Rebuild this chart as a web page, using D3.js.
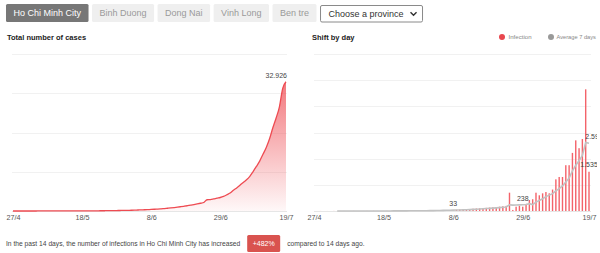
<!DOCTYPE html>
<html>
<head>
<meta charset="utf-8">
<script src="https://cdn.jsdelivr.net/npm/d3@7"></script>
<style>
body { margin: 0; background: #fff; }
svg { display: block; font-family: "Liberation Sans", Arial, sans-serif; }
</style>
</head>
<body>
<svg id="chart" width="600" height="253"></svg>
<script>
var provinces = ['Ho Chi Minh City', 'Binh Duong', 'Dong Nai', 'Vinh Long', 'Ben tre'];
var selectText = 'Choose a province';

// one value per day, 27/4 .. 19/7
var firstDay = new Date(2021, 3, 27);
var lastDay = new Date(2021, 6, 19);
var tickLabels = ['27/4', '18/5', '8/6', '29/6', '19/7'];

var dailyCases = [
    0, 0, 2, 0, 1, 0, 3, 0, 1, 2, 0, 0, 4, 1, 0, 2, 3, 0, 5, 2, 1,
    2, 4, 1, 5, 6, 8, 10, 7, 12, 14, 11, 15, 12, 16, 14,
    28, 30, 33, 31, 35, 34,
    40, 45, 55, 60, 70, 75, 85, 95, 100, 110, 120, 130, 140, 150, 165, 180, 195,
    700, 40, 165, 200, 165, 270, 420, 450, 700, 600, 675, 725, 675, 820,
    1210, 1300, 1300, 1750, 1750, 2220, 2700, 2400, 2750, 4650, 1500
];

var weekAverage = [
    null, null, null, null, null, null, null,
    0.9, 1, 1, 1, 0.9, 1.4, 1.1, 1.1, 1.3, 1.4, 1.4, 2.1, 1.9, 1.9,
    2.1, 2.4, 2.1, 2.9, 3, 3.9, 5.1, 5.9, 7, 8.9, 9.7, 11, 11.6, 12.4, 13.4,
    15.7, 18, 21.1, 23.4, 26.7, 29.3,
    33, 35.4, 39, 42.9, 48.4, 54.1, 61.4, 69.3, 77.1, 85, 93.6, 102.1, 111.4, 120.7, 130.7, 142.1, 154.3,
    237.1, 224.3, 227.9, 235, 238, 247.9, 280, 244.3, 338.6, 400.7, 468.6, 548.6, 606.4, 663.6,
    772.1, 857.9, 957.9, 1111.4, 1257.9, 1535, 1747.1, 1917.1, 2124.3, 2620, 2590
];

var totalCases = [
    0, 0, 2, 2, 3, 3, 6, 6, 7, 9, 9, 9, 13, 14, 14, 16, 19, 19, 24, 26, 27,
    29, 33, 34, 39, 45, 53, 63, 70, 82, 96, 107, 122, 134, 150, 164,
    192, 222, 255, 286, 321, 355,
    395, 440, 495, 555, 625, 700, 785, 880, 980, 1090, 1210, 1340, 1480, 1630, 1795, 1975, 2170,
    2870, 2910, 3075, 3275, 3440, 3710, 4130, 4580, 5280, 5880, 6555, 7280, 7955, 8845,
    10055, 11345, 12720, 14450, 16180, 18400, 21200, 23700, 26550, 31250, 32926
];

var averageLabelDays = ['8/6', '29/6', '16/7', '19/7'];
var averageLabelValues = [33, 238, 1535, 2590];

var sentenceBefore = 'In the past 14 days, the number of infections in Ho Chi Minh City has increased';
var changeText = '+482%';
var sentenceAfter = 'compared to 14 days ago.';

var red = '#ee4b52';
var barRed = '#f3636a';

function parseDay(s) {
    var p = s.split('/');
    return new Date(2021, +p[1] - 1, +p[0]);
}

var days = d3.timeDay.range(firstDay, d3.timeDay.offset(lastDay, 1));
var vnFormat = d3.formatLocale({decimal: ',', thousands: '.', grouping: [3], currency: ['', '']}).format(',d');

var svg = d3.select('#chart');

// province buttons
var bx = 6;
provinces.forEach(function (name, i) {
    var g = svg.append('g');
    var r = g.append('rect');
    var t = g.append('text')
        .attr('y', 16.3)
        .attr('font-size', 9)
        .attr('fill', i === 0 ? '#fff' : '#9a9a9a')
        .text(name);
    var w = t.node().getComputedTextLength() + 15;
    r.attr('x', bx).attr('y', 4)
        .attr('width', w).attr('height', 18)
        .attr('rx', 1.5)
        .attr('fill', i === 0 ? '#777' : '#efefef');
    t.attr('x', bx + w / 2).attr('text-anchor', 'middle');
    bx += w + 3.5;
});

svg.append('rect')
    .attr('x', bx + 0.5).attr('y', 5.5)
    .attr('width', 102).attr('height', 16.5)
    .attr('rx', 1.5)
    .attr('fill', '#fff')
    .attr('stroke', '#8a8a8a');
svg.append('text')
    .attr('x', bx + 8.5).attr('y', 16.6)
    .attr('font-size', 9)
    .attr('fill', '#333')
    .text(selectText);
svg.append('path')
    .attr('d', 'M' + (bx + 90.5) + ',12.3l3,3l3,-3')
    .attr('fill', 'none')
    .attr('stroke', '#333')
    .attr('stroke-width', 1.4);

// titles
svg.append('text').attr('x', 7).attr('y', 40).attr('font-size', 7.5).attr('font-weight', 'bold')
    .attr('fill', '#222').text('Total number of cases');
svg.append('text').attr('x', 312).attr('y', 40).attr('font-size', 7.5).attr('font-weight', 'bold')
    .attr('fill', '#222').text('Shift by day');

// legend
svg.append('circle').attr('cx', 502).attr('cy', 37).attr('r', 3).attr('fill', '#e8474e');
svg.append('text').attr('x', 508.5).attr('y', 39.2).attr('font-size', 6.1).attr('fill', '#888').text('Infection');
svg.append('circle').attr('cx', 551).attr('cy', 37).attr('r', 3).attr('fill', '#999');
svg.append('text').attr('x', 556.5).attr('y', 39.2).attr('font-size', 5.7).attr('fill', '#888').text('Average 7 days');

function drawGrid(g, y, ticks, x0, x1) {
    g.selectAll('line.grid')
        .data(ticks)
        .join('line')
        .attr('class', 'grid')
        .attr('x1', x0).attr('x2', x1)
        .attr('y1', function (d) { return Math.round(y(d)) + 0.5; })
        .attr('y2', function (d) { return Math.round(y(d)) + 0.5; })
        .attr('stroke', function (d) { return d === 0 ? '#e6e6e6' : '#f1f1f1'; });
}

function drawXAxis(g, x) {
    var axis = g.append('g')
        .attr('transform', 'translate(0,211)')
        .call(d3.axisBottom(x)
            .tickValues(tickLabels.map(parseDay))
            .tickFormat(d3.timeFormat('%-d/%-m'))
            .tickSize(0)
            .tickPadding(3.5));
    axis.select('.domain').remove();
    axis.selectAll('text')
        .attr('font-size', 7.2)
        .attr('font-family', '"Liberation Sans", Arial, sans-serif')
        .attr('fill', '#555');
}

// left: cumulative
var left = svg.append('g');
var xL = d3.scaleTime().domain([firstDay, lastDay]).range([13, 286]);
var yL = d3.scaleLinear().domain([0, 40000]).range([211, 54]);
drawGrid(left, yL, d3.range(0, 40001, 10000), 12, 287);

var grad = svg.append('defs').append('linearGradient')
    .attr('id', 'areaFill')
    .attr('gradientUnits', 'userSpaceOnUse')
    .attr('x1', 0).attr('x2', 0).attr('y1', yL(32926)).attr('y2', 211);
grad.append('stop').attr('offset', 0).attr('stop-color', red).attr('stop-opacity', 0.75);
grad.append('stop').attr('offset', 1).attr('stop-color', red).attr('stop-opacity', 0.04);

left.append('path')
    .datum(totalCases)
    .attr('fill', 'url(#areaFill)')
    .attr('d', d3.area()
        .x(function (d, i) { return xL(days[i]); })
        .y0(211)
        .y1(function (d) { return yL(d); })
        .curve(d3.curveMonotoneX));
left.append('path')
    .datum(totalCases)
    .attr('fill', 'none')
    .attr('stroke', red)
    .attr('stroke-width', 1.3)
    .attr('d', d3.line()
        .x(function (d, i) { return xL(days[i]); })
        .y(function (d) { return yL(d); })
        .curve(d3.curveMonotoneX));
left.append('text')
    .attr('x', xL(lastDay) + 1)
    .attr('y', yL(totalCases[totalCases.length - 1]) - 4)
    .attr('text-anchor', 'end')
    .attr('font-size', 7)
    .attr('fill', '#444')
    .text(vnFormat(totalCases[totalCases.length - 1]));
drawXAxis(left, xL);

// right: daily
svg.append('defs').append('clipPath').attr('id', 'rightClip')
    .append('rect').attr('x', 300).attr('y', 0).attr('width', 297).attr('height', 253);
var right = svg.append('g').attr('clip-path', 'url(#rightClip)');
var xR = d3.scaleTime().domain([firstDay, lastDay]).range([314, 589]);
var yR = d3.scaleLinear().domain([0, 6000]).range([211, 54]);
drawGrid(right, yR, d3.range(0, 6001, 1000), 314, 591);

right.selectAll('rect.bar')
    .data(dailyCases)
    .join('rect')
    .attr('class', 'bar')
    .attr('x', function (d, i) { return xR(days[i]) - 0.7; })
    .attr('width', 1.4)
    .attr('y', function (d) { return yR(d); })
    .attr('height', function (d) { return 211 - yR(d); })
    .attr('fill', barRed);

right.append('path')
    .datum(weekAverage)
    .attr('fill', 'none')
    .attr('stroke', '#c2c2c2')
    .attr('stroke-width', 1.6)
    .attr('d', d3.line()
        .defined(function (d) { return d != null; })
        .x(function (d, i) { return xR(days[i]); })
        .y(function (d) { return yR(d); }));

var labelDx = [0, 0, 10, 5];
right.selectAll('text.avg')
    .data(averageLabelValues)
    .join('text')
    .attr('class', 'avg')
    .attr('x', function (d, i) { return xR(parseDay(averageLabelDays[i])) + labelDx[i]; })
    .attr('y', function (d) { return yR(d) - 4; })
    .attr('text-anchor', 'middle')
    .attr('font-size', 7)
    .attr('fill', '#444')
    .text(function (d) { return vnFormat(d); });
drawXAxis(right, xR);

// summary line
var s1 = svg.append('text').attr('x', 6).attr('y', 245.5).attr('font-size', 6.7).attr('fill', '#444')
    .text(sentenceBefore);
var bx0 = 6 + s1.node().getComputedTextLength() + 7;
var badgeG = svg.append('g');
var badgeRect = badgeG.append('rect');
var badge = badgeG.append('text').attr('y', 246).attr('font-size', 7).attr('fill', '#fff')
    .attr('text-anchor', 'middle').text(changeText);
var bw = badge.node().getComputedTextLength() + 11;
badgeRect.attr('x', bx0).attr('y', 235).attr('width', bw).attr('height', 17)
    .attr('rx', 1.5).attr('fill', '#d9534f');
badge.attr('x', bx0 + bw / 2);
svg.append('text').attr('x', bx0 + bw + 7).attr('y', 245.5).attr('font-size', 6.7).attr('fill', '#444')
    .text(sentenceAfter);
</script>
</body>
</html>
